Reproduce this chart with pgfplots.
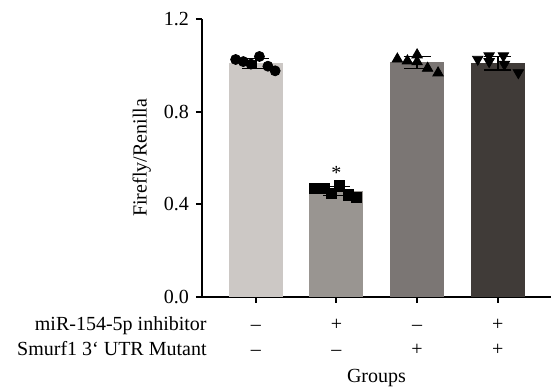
\documentclass[border=0pt]{standalone}
\usepackage{fontspec}
\setmainfont{Liberation Serif}
\usepackage{pgfplots}
\pgfplotsset{compat=1.18}
\definecolor{c1}{RGB}{204,200,197}
\definecolor{c2}{RGB}{153,149,145}
\definecolor{c3}{RGB}{123,118,116}
\definecolor{c4}{RGB}{64,59,56}
\begin{document}
\begin{tikzpicture}
\begin{axis}[
  at={(0,0)}, anchor=south west,
  scale only axis, width=174.5pt, height=138.85pt,
  xmin=0.333, xmax=4.66, ymin=0, ymax=1.2,
  axis lines*=left,
  axis line style={line width=1pt, black},
  ytick={0,0.4,0.8,1.2}, xtick={1,2,3,4}, xticklabels={},
  tick align=outside, major tick length=3pt,
  tick style={line width=1pt, black},
  yticklabel style={/pgf/number format/.cd, fixed, fixed zerofill, precision=1, assume math mode=true},
  ylabel={Firefly/Renilla},
  ylabel style={at={(axis description cs:-0.1728,0.5)}, anchor=center},
  clip=false,
  error bars/y dir=both, error bars/y explicit,
  error bars/error mark=|,
  error bars/error bar style={draw=black, solid, line width=0.75pt},
  error bars/error mark options={draw=black, line width=0.75pt, mark size=6.75pt},
]
\addplot[ybar, bar width=27pt, bar shift=0pt, fill=c1, draw=none] coordinates {(1,1.008) +- (0,0.022)};
\addplot[ybar, bar width=27pt, bar shift=0pt, fill=c2, draw=none] coordinates {(2,0.457) +- (0,0.020)};
\addplot[ybar, bar width=27pt, bar shift=0pt, fill=c3, draw=none] coordinates {(3,1.012) +- (0,0.025)};
\addplot[ybar, bar width=27pt, bar shift=0pt, fill=c4, draw=none] coordinates {(4,1.009) +- (0,0.029)};
\addplot[only marks, mark=*, mark size=2.5pt, black] coordinates {
 (0.75,1.025) (0.845,1.016) (0.94,1.005) (1.045,1.038) (1.15,0.996) (1.24,0.976)};
\addplot[only marks, mark=square*, mark size=2.6pt, black] coordinates {
 (1.73,0.468) (1.854,0.468) (1.94,0.447) (2.04,0.479) (2.15,0.440) (2.25,0.430)};
\addplot[only marks, mark=triangle*, mark size=3pt, black] coordinates {
 (2.755,1.027) (2.88,1.019) (3.0,1.045) (3.0,1.015) (3.13,0.987) (3.26,0.967)};
\addplot[only marks, mark=triangle*, mark size=3pt, black, mark options={rotate=180}] coordinates {
 (3.752,1.026) (3.893,1.041) (3.893,1.016) (4.07,1.041) (4.082,1.004) (4.255,0.968)};
\node at (axis cs:2,0.535) {*};
\node[anchor=base east, inner sep=0pt] at ([xshift=2.5pt,yshift=-17.15pt]rel axis cs:0,0) {miR-154-5p inhibitor};
\node[anchor=base east, inner sep=0pt] at ([xshift=2.5pt,yshift=-29.65pt]rel axis cs:0,0) {Smurf1 3‘ UTR Mutant};
\node[anchor=base] at ([yshift=-17.15pt]axis cs:1,0) {–};
\node[anchor=base] at ([yshift=-17.15pt]axis cs:2,0) {+};
\node[anchor=base] at ([yshift=-17.15pt]axis cs:3,0) {–};
\node[anchor=base] at ([yshift=-17.15pt]axis cs:4,0) {+};
\node[anchor=base] at ([yshift=-29.65pt]axis cs:1,0) {–};
\node[anchor=base] at ([yshift=-29.65pt]axis cs:2,0) {–};
\node[anchor=base] at ([yshift=-29.65pt]axis cs:3,0) {+};
\node[anchor=base] at ([yshift=-29.65pt]axis cs:4,0) {+};
\node[anchor=base] at ([yshift=-43pt]rel axis cs:0.5,0) {Groups};
\end{axis}
\pgfresetboundingbox
\path[use as bounding box] (-101pt,-46.15pt) rectangle (174.5pt,148.35pt);
\end{tikzpicture}
\end{document}
